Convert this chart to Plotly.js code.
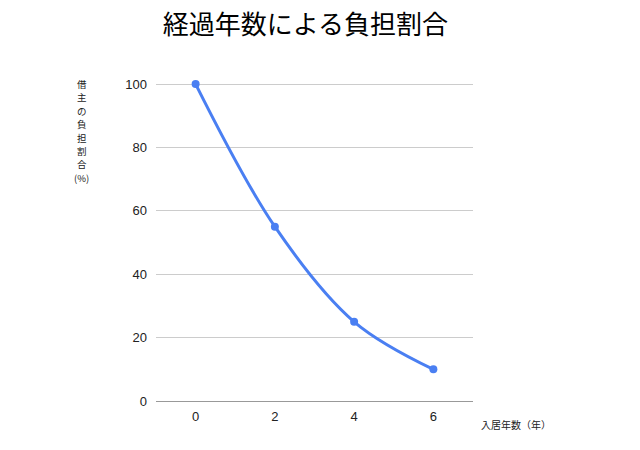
<!DOCTYPE html>
<html>
<head>
<meta charset="utf-8">
<script src="https://cdn.plot.ly/plotly-3.0.1.min.js"></script>
<style>
	html, body { margin: 0; padding: 0; background: #ffffff; }
	#plot1 { width: 640px; height: 450px; }
</style>
</head>
<body>
<div id="plot1"></div>
<script>
// Years lived in the unit and the share the tenant pays
var years = [0, 2, 4, 6];
var share = [100, 55, 25, 10];
var yTicks = [0, 20, 40, 60, 80, 100];
var xTicks = [0, 2, 4, 6];

var chartTitle = '経過年数による負担割合';
var yTitleChars = ['借', '主', 'の', '負', '担', '割', '合', '(%)'];
var xTitle = '入居年数（年）';

function initiatePlot1() {

	var line1 = {
		x: years,
		y: share,
		mode: 'lines+markers',
		cliponaxis: false,
		line: {
			color: '#4a7ff2',
			width: 3,
			shape: 'spline',
			smoothing: 1
		},
		marker: {
			color: '#4a7ff2',
			size: 8
		}
	};

	// stacked vertical y title, one annotation per character
	var plotH = 450 - 82 - 49;
	var step = 13.4 / plotH;
	var annotations = yTitleChars.map(function (ch, i) {
		return {
			text: ch,
			xref: 'paper',
			yref: 'paper',
			x: -0.235,
			y: 0.9937 - i * step,
			xanchor: 'center',
			yanchor: 'middle',
			showarrow: false,
			borderpad: 0,
			font: {
				family: '"Noto Sans CJK JP", sans-serif',
				size: 9.5,
				color: '#222222'
			}
		};
	});

	annotations.push({
		text: xTitle,
		xref: 'paper',
		yref: 'paper',
		x: 1.02,
		y: -0.045,
		xanchor: 'left',
		yanchor: 'top',
		showarrow: false,
		font: {
			family: '"Noto Sans CJK JP", sans-serif',
			size: 10,
			color: '#222222'
		}
	});

	var layout = {
		autosize: false,
		width: 640,
		height: 450,
		showlegend: false,
		hovermode: false,
		paper_bgcolor: '#ffffff',
		plot_bgcolor: '#ffffff',
		margin: {
			l: 156,
			r: 167,
			b: 49,
			t: 82
		},
		font: {
			family: 'Arial, "Liberation Sans", "Noto Sans CJK JP", sans-serif',
			size: 13,
			color: '#222222'
		},
		title: {
			text: chartTitle,
			x: 0.477,
			xanchor: 'center',
			y: 0.945,
			yanchor: 'middle',
			font: {
				family: '"Noto Sans CJK JP", sans-serif',
				size: 26,
				color: '#000000'
			}
		},
		xaxis: {
			range: [-1, 7],
			tickvals: xTicks,
			ticktext: xTicks.map(String),
			showgrid: false,
			zeroline: false,
			showline: false,
			ticks: '',
			ticklabelstandoff: 6
		},
		yaxis: {
			range: [0, 100.65],
			tickvals: yTicks,
			ticktext: yTicks.map(String),
			showgrid: true,
			gridcolor: '#cccccc',
			gridwidth: 1,
			zeroline: true,
			zerolinecolor: '#999999',
			zerolinewidth: 1,
			showline: false,
			ticks: '',
			ticklabelstandoff: 8
		},
		annotations: annotations
	};

	var data = [line1];

	Plotly.newPlot('plot1', data, layout, {displayModeBar: false, staticPlot: true});
}

initiatePlot1();
</script>
</body>
</html>
